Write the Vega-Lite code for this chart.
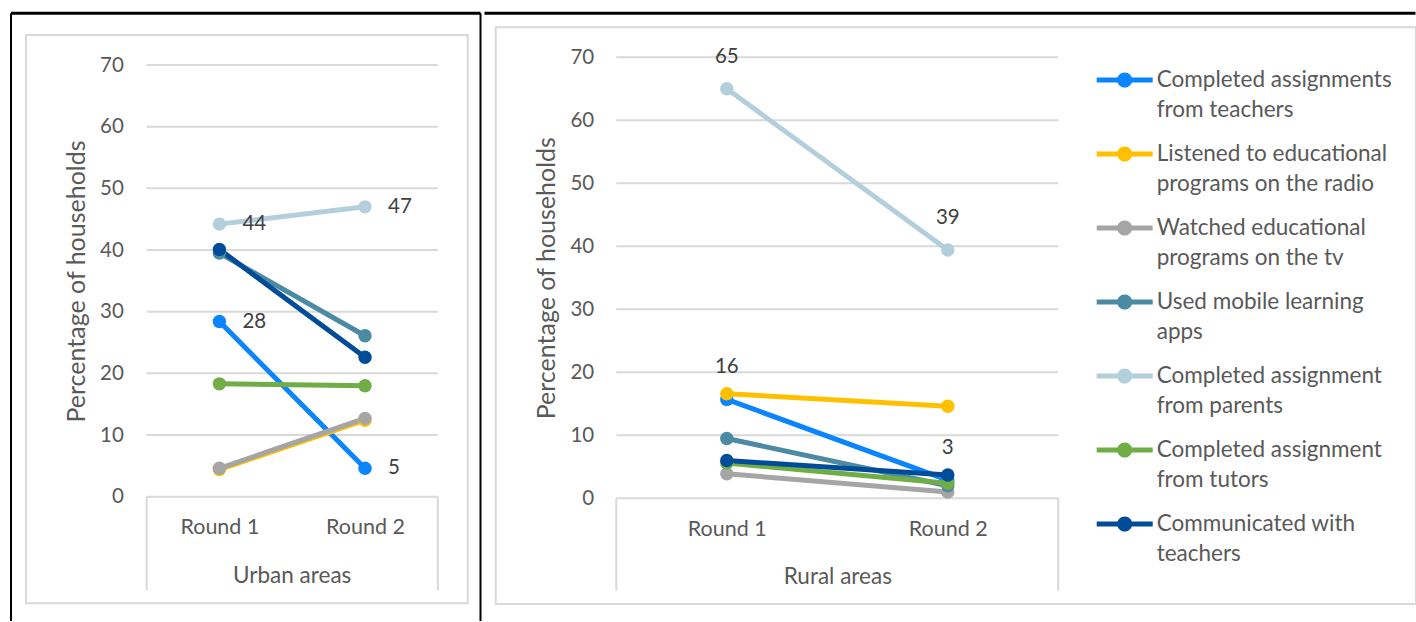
{
  "$schema": "https://vega.github.io/schema/vega-lite/v6.json",
  "usermeta": {"embedOptions": {"actions": false}},
  "padding": 0,
  "spacing": 0,
  "background": "white",
  "config": {
    "font": "Lato",
    "view": {"stroke": null},
    "concat": {"spacing": 0}
  },
  "data": {
    "values": [
      {"area": "Urban areas", "series": "Completed assignments from teachers", "round": 1, "value": 28.4},
      {"area": "Urban areas", "series": "Completed assignments from teachers", "round": 2, "value": 4.6},
      {"area": "Urban areas", "series": "Listened to educational programs on the radio", "round": 1, "value": 4.4},
      {"area": "Urban areas", "series": "Listened to educational programs on the radio", "round": 2, "value": 12.4},
      {"area": "Urban areas", "series": "Watched educational programs on the tv", "round": 1, "value": 4.6},
      {"area": "Urban areas", "series": "Watched educational programs on the tv", "round": 2, "value": 12.7},
      {"area": "Urban areas", "series": "Used mobile learning apps", "round": 1, "value": 39.5},
      {"area": "Urban areas", "series": "Used mobile learning apps", "round": 2, "value": 26.1},
      {"area": "Urban areas", "series": "Completed assignment from parents", "round": 1, "value": 44.2},
      {"area": "Urban areas", "series": "Completed assignment from parents", "round": 2, "value": 47.0},
      {"area": "Urban areas", "series": "Completed assignment from tutors", "round": 1, "value": 18.3},
      {"area": "Urban areas", "series": "Completed assignment from tutors", "round": 2, "value": 18.0},
      {"area": "Urban areas", "series": "Communicated with teachers", "round": 1, "value": 40.1},
      {"area": "Urban areas", "series": "Communicated with teachers", "round": 2, "value": 22.6},
      {"area": "Rural areas", "series": "Completed assignments from teachers", "round": 1, "value": 15.7},
      {"area": "Rural areas", "series": "Completed assignments from teachers", "round": 2, "value": 2.9},
      {"area": "Rural areas", "series": "Listened to educational programs on the radio", "round": 1, "value": 16.6},
      {"area": "Rural areas", "series": "Listened to educational programs on the radio", "round": 2, "value": 14.6},
      {"area": "Rural areas", "series": "Watched educational programs on the tv", "round": 1, "value": 3.9},
      {"area": "Rural areas", "series": "Watched educational programs on the tv", "round": 2, "value": 1.0},
      {"area": "Rural areas", "series": "Used mobile learning apps", "round": 1, "value": 9.5},
      {"area": "Rural areas", "series": "Used mobile learning apps", "round": 2, "value": 2.0},
      {"area": "Rural areas", "series": "Completed assignment from parents", "round": 1, "value": 65.0},
      {"area": "Rural areas", "series": "Completed assignment from parents", "round": 2, "value": 39.4},
      {"area": "Rural areas", "series": "Completed assignment from tutors", "round": 1, "value": 5.6},
      {"area": "Rural areas", "series": "Completed assignment from tutors", "round": 2, "value": 2.4},
      {"area": "Rural areas", "series": "Communicated with teachers", "round": 1, "value": 6.0},
      {"area": "Rural areas", "series": "Communicated with teachers", "round": 2, "value": 3.7}
    ]
  },
  "hconcat": [
    {
      "width": 482,
      "height": 622,
      "layer": [
        {
          "data": {"values": [{}]},
          "mark": {"type": "rect", "filled": false, "stroke": "#d9d9d9", "strokeWidth": 2},
          "encoding": {
            "x": {"datum": -0.3283, "type": "quantitative", "scale": {"domain": [-0.5069, 2.8036], "nice": false, "zero": false}},
            "x2": {"datum": 2.7054},
            "y": {"datum": 74.865, "type": "quantitative", "scale": {"domain": [-20.318, 80.54], "nice": false, "zero": false}},
            "y2": {"datum": -17.285}
          }
        },
        {
          "data": {"values": [{}]},
          "mark": {"type": "rule", "color": "#000000", "strokeWidth": 3},
          "encoding": {
            "x": {"datum": -0.4313, "type": "quantitative", "scale": {"domain": [-0.5069, 2.8036], "nice": false, "zero": false}},
            "x2": {"datum": 2.7933},
            "y": {"datum": 78.383, "type": "quantitative", "scale": {"domain": [-20.318, 80.54], "nice": false, "zero": false}}
          }
        },
        {
          "data": {"values": [{}]},
          "mark": {"type": "rule", "color": "#000000", "strokeWidth": 2},
          "encoding": {
            "x": {"datum": -0.4313, "type": "quantitative", "scale": {"domain": [-0.5069, 2.8036], "nice": false, "zero": false}},
            "y": {"datum": 78.383, "type": "quantitative", "scale": {"domain": [-20.318, 80.54], "nice": false, "zero": false}},
            "y2": {"datum": -20.156}
          }
        },
        {
          "data": {"values": [{}]},
          "mark": {"type": "rule", "color": "#000000", "strokeWidth": 2},
          "encoding": {
            "x": {"datum": 2.7933, "type": "quantitative", "scale": {"domain": [-0.5069, 2.8036], "nice": false, "zero": false}},
            "y": {"datum": 78.383, "type": "quantitative", "scale": {"domain": [-20.318, 80.54], "nice": false, "zero": false}},
            "y2": {"datum": -20.156}
          }
        },
        {
          "data": {"values": [{"tick": 0}, {"tick": 10}, {"tick": 20}, {"tick": 30}, {"tick": 40}, {"tick": 50}, {"tick": 60}, {"tick": 70}]},
          "mark": {"type": "rule", "color": "#d9d9d9", "strokeWidth": 2},
          "encoding": {
            "x": {"datum": 0.5, "type": "quantitative", "scale": {"domain": [-0.5069, 2.8036], "nice": false, "zero": false}},
            "x2": {"datum": 2.5},
            "y": {"field": "tick", "type": "quantitative", "scale": {"domain": [-20.318, 80.54], "nice": false, "zero": false}}
          }
        },
        {
          "data": {"values": [{}]},
          "mark": {"type": "rule", "color": "#d9d9d9", "strokeWidth": 2},
          "encoding": {
            "x": {"datum": 0.5, "type": "quantitative", "scale": {"domain": [-0.5069, 2.8036], "nice": false, "zero": false}},
            "y": {"datum": 0, "type": "quantitative", "scale": {"domain": [-20.318, 80.54], "nice": false, "zero": false}},
            "y2": {"datum": -15.18}
          }
        },
        {
          "data": {"values": [{}]},
          "mark": {"type": "rule", "color": "#d9d9d9", "strokeWidth": 2},
          "encoding": {
            "x": {"datum": 2.5, "type": "quantitative", "scale": {"domain": [-0.5069, 2.8036], "nice": false, "zero": false}},
            "y": {"datum": 0, "type": "quantitative", "scale": {"domain": [-20.318, 80.54], "nice": false, "zero": false}},
            "y2": {"datum": -15.18}
          }
        },
        {
          "transform": [{"filter": "datum.area == 'Urban areas'"}],
          "mark": {"type": "line", "strokeWidth": 5, "strokeCap": "round"},
          "encoding": {
            "x": {
              "field": "round", "type": "quantitative",
              "scale": {"domain": [-0.5069, 2.8036], "nice": false, "zero": false},
              "axis": {"values": [1, 2], "labelExpr": "'Round ' + datum.value", "grid": false, "domain": false, "ticks": false, "tickSize": 0, "offset": -125.3, "labelPadding": 31, "labelBaseline": "middle", "labelFlush": false, "labelOverlap": false, "labelFontSize": 21.5, "labelColor": "#595959", "title": "Urban areas", "titleX": 291.7, "titleY": 78.3, "titleBaseline": "middle", "titleAlign": "center", "titleFontSize": 22.5, "titleColor": "#595959", "titleFontWeight": "normal"}
            },
            "y": {
              "field": "value", "type": "quantitative",
              "scale": {"domain": [-20.318, 80.54], "nice": false, "zero": false},
              "axis": {"values": [0, 10, 20, 30, 40, 50, 60, 70], "format": "d", "grid": false, "domain": false, "ticks": false, "tickSize": 0, "offset": -146.7, "labelPadding": 23.4, "labelFlush": false, "labelOverlap": false, "labelFontSize": 20.5, "labelColor": "#595959", "title": "Percentage of households", "titleX": -70.7, "titleY": 281, "titleAngle": -90, "titleBaseline": "middle", "titleAlign": "center", "titleFontSize": 25, "titleColor": "#595959", "titleFontWeight": "normal"}
            },
            "color": {
              "field": "series", "type": "nominal",
              "scale": {
                "domain": ["Completed assignments from teachers", "Listened to educational programs on the radio", "Watched educational programs on the tv", "Used mobile learning apps", "Completed assignment from parents", "Completed assignment from tutors", "Communicated with teachers"],
                "range": ["#0a84ff", "#ffc000", "#a5a5a5", "#4a8aa3", "#b4cfdc", "#70ad47", "#004c99"]
              },
              "legend": {
                "orient": "none", "legendX": 1096.7, "legendY": 52, "direction": "vertical", "title": null,
                "symbolType": "M-1,-0.09L1,-0.09L1,0.09L-1,0.09Z M0.27,0A0.27,0.27,0,1,1,-0.27,0A0.27,0.27,0,1,1,0.27,0Z",
                "symbolSize": 3136, "symbolStrokeWidth": 0, "labelFontSize": 22.5, "labelColor": "#595959", "labelOffset": 4, "rowPadding": 4, "labelLimit": 400,
                "labelExpr": "datum.label == 'Completed assignments from teachers' ? ['Completed assignments', 'from teachers'] : datum.label == 'Listened to educational programs on the radio' ? ['Listened to educational', 'programs on the radio'] : datum.label == 'Watched educational programs on the tv' ? ['Watched educational', 'programs on the tv'] : datum.label == 'Used mobile learning apps' ? ['Used mobile learning', 'apps'] : datum.label == 'Completed assignment from parents' ? ['Completed assignment', 'from parents'] : datum.label == 'Completed assignment from tutors' ? ['Completed assignment', 'from tutors'] : ['Communicated with', 'teachers']",
                "encode": {
                  "symbols": {"update": {"fill": {"scale": "color", "field": "value"}, "stroke": {"value": "transparent"}, "opacity": {"value": 1}}},
                  "labels": {"update": {"lineHeight": {"value": 30}}}
                }
              }
            }
          }
        },
        {
          "transform": [{"filter": "datum.area == 'Urban areas'"}],
          "mark": {"type": "point", "filled": true, "size": 180, "opacity": 1, "strokeWidth": 0},
          "encoding": {
            "x": {"field": "round", "type": "quantitative", "scale": {"domain": [-0.5069, 2.8036], "nice": false, "zero": false}},
            "y": {"field": "value", "type": "quantitative", "scale": {"domain": [-20.318, 80.54], "nice": false, "zero": false}},
            "color": {"field": "series", "type": "nominal"}
          }
        },
        {
          "transform": [{"filter": "datum.area == 'Urban areas' && (datum.series == 'Completed assignments from teachers' || datum.series == 'Completed assignment from parents')"}],
          "mark": {"type": "text", "align": "left", "baseline": "middle", "dx": 23, "fontSize": 20.5, "color": "#404040"},
          "encoding": {
            "x": {"field": "round", "type": "quantitative", "scale": {"domain": [-0.5069, 2.8036], "nice": false, "zero": false}},
            "y": {"field": "value", "type": "quantitative", "scale": {"domain": [-20.318, 80.54], "nice": false, "zero": false}},
            "text": {"field": "value", "type": "quantitative", "format": ".0f"}
          }
        }
      ]
    },
    {
      "width": 934,
      "height": 622,
      "layer": [
        {
          "data": {"values": [{}]},
          "mark": {"type": "rect", "filled": false, "stroke": "#d9d9d9", "strokeWidth": 2},
          "encoding": {
            "x": {"datum": -0.0457, "type": "quantitative", "scale": {"domain": [-0.1032, 4.1231], "nice": false, "zero": false}},
            "x2": {"datum": 4.1186},
            "y": {"datum": 74.762, "type": "quantitative", "scale": {"domain": [-19.635, 79.095], "nice": false, "zero": false}},
            "y2": {"datum": -16.778}
          }
        },
        {
          "data": {"values": [{}]},
          "mark": {"type": "rule", "color": "#000000", "strokeWidth": 3},
          "encoding": {
            "x": {"datum": -0.0964, "type": "quantitative", "scale": {"domain": [-0.1032, 4.1231], "nice": false, "zero": false}},
            "x2": {"datum": 4.1163},
            "y": {"datum": 76.984, "type": "quantitative", "scale": {"domain": [-19.635, 79.095], "nice": false, "zero": false}}
          }
        },
        {
          "data": {"values": [{"tick": 0}, {"tick": 10}, {"tick": 20}, {"tick": 30}, {"tick": 40}, {"tick": 50}, {"tick": 60}, {"tick": 70}]},
          "mark": {"type": "rule", "color": "#d9d9d9", "strokeWidth": 2},
          "encoding": {
            "x": {"datum": 0.5, "type": "quantitative", "scale": {"domain": [-0.1032, 4.1231], "nice": false, "zero": false}},
            "x2": {"datum": 2.5},
            "y": {"field": "tick", "type": "quantitative", "scale": {"domain": [-19.635, 79.095], "nice": false, "zero": false}}
          }
        },
        {
          "data": {"values": [{}]},
          "mark": {"type": "rule", "color": "#d9d9d9", "strokeWidth": 2},
          "encoding": {
            "x": {"datum": 0.5, "type": "quantitative", "scale": {"domain": [-0.1032, 4.1231], "nice": false, "zero": false}},
            "y": {"datum": 0, "type": "quantitative", "scale": {"domain": [-19.635, 79.095], "nice": false, "zero": false}},
            "y2": {"datum": -14.67}
          }
        },
        {
          "data": {"values": [{}]},
          "mark": {"type": "rule", "color": "#d9d9d9", "strokeWidth": 2},
          "encoding": {
            "x": {"datum": 2.5, "type": "quantitative", "scale": {"domain": [-0.1032, 4.1231], "nice": false, "zero": false}},
            "y": {"datum": 0, "type": "quantitative", "scale": {"domain": [-19.635, 79.095], "nice": false, "zero": false}},
            "y2": {"datum": -14.67}
          }
        },
        {
          "transform": [{"filter": "datum.area == 'Rural areas'"}],
          "mark": {"type": "line", "strokeWidth": 5, "strokeCap": "round"},
          "encoding": {
            "x": {
              "field": "round", "type": "quantitative",
              "scale": {"domain": [-0.1032, 4.1231], "nice": false, "zero": false},
              "axis": {"values": [1, 2], "labelExpr": "'Round ' + datum.value", "grid": false, "domain": false, "ticks": false, "tickSize": 0, "offset": -123.7, "labelPadding": 30.7, "labelBaseline": "middle", "labelFlush": false, "labelOverlap": false, "labelFontSize": 21.5, "labelColor": "#595959", "title": "Rural areas", "titleX": 354.3, "titleY": 77.7, "titleBaseline": "middle", "titleAlign": "center", "titleFontSize": 22.5, "titleColor": "#595959", "titleFontWeight": "normal"}
            },
            "y": {
              "field": "value", "type": "quantitative",
              "scale": {"domain": [-19.635, 79.095], "nice": false, "zero": false},
              "axis": {"values": [0, 10, 20, 30, 40, 50, 60, 70], "format": "d", "grid": false, "domain": false, "ticks": false, "tickSize": 0, "offset": -133.3, "labelPadding": 22.6, "labelFlush": false, "labelOverlap": false, "labelFontSize": 20.5, "labelColor": "#595959", "title": "Percentage of households", "titleX": -70.3, "titleY": 277.7, "titleAngle": -90, "titleBaseline": "middle", "titleAlign": "center", "titleFontSize": 25, "titleColor": "#595959", "titleFontWeight": "normal"}
            },
            "color": {
              "field": "series", "type": "nominal",
              "scale": {
                "domain": ["Completed assignments from teachers", "Listened to educational programs on the radio", "Watched educational programs on the tv", "Used mobile learning apps", "Completed assignment from parents", "Completed assignment from tutors", "Communicated with teachers"],
                "range": ["#0a84ff", "#ffc000", "#a5a5a5", "#4a8aa3", "#b4cfdc", "#70ad47", "#004c99"]
              },
              "legend": {
                "orient": "none", "legendX": 1096.7, "legendY": 52, "direction": "vertical", "title": null,
                "symbolType": "M-1,-0.09L1,-0.09L1,0.09L-1,0.09Z M0.27,0A0.27,0.27,0,1,1,-0.27,0A0.27,0.27,0,1,1,0.27,0Z",
                "symbolSize": 3136, "symbolStrokeWidth": 0, "labelFontSize": 22.5, "labelColor": "#595959", "labelOffset": 4, "rowPadding": 4, "labelLimit": 400,
                "labelExpr": "datum.label == 'Completed assignments from teachers' ? ['Completed assignments', 'from teachers'] : datum.label == 'Listened to educational programs on the radio' ? ['Listened to educational', 'programs on the radio'] : datum.label == 'Watched educational programs on the tv' ? ['Watched educational', 'programs on the tv'] : datum.label == 'Used mobile learning apps' ? ['Used mobile learning', 'apps'] : datum.label == 'Completed assignment from parents' ? ['Completed assignment', 'from parents'] : datum.label == 'Completed assignment from tutors' ? ['Completed assignment', 'from tutors'] : ['Communicated with', 'teachers']",
                "encode": {
                  "symbols": {"update": {"fill": {"scale": "color", "field": "value"}, "stroke": {"value": "transparent"}, "opacity": {"value": 1}}},
                  "labels": {"update": {"lineHeight": {"value": 30}}}
                }
              }
            }
          }
        },
        {
          "transform": [{"filter": "datum.area == 'Rural areas'"}],
          "mark": {"type": "point", "filled": true, "size": 180, "opacity": 1, "strokeWidth": 0},
          "encoding": {
            "x": {"field": "round", "type": "quantitative", "scale": {"domain": [-0.1032, 4.1231], "nice": false, "zero": false}},
            "y": {"field": "value", "type": "quantitative", "scale": {"domain": [-19.635, 79.095], "nice": false, "zero": false}},
            "color": {"field": "series", "type": "nominal"}
          }
        },
        {
          "transform": [{"filter": "datum.area == 'Rural areas' && (datum.series == 'Completed assignments from teachers' || datum.series == 'Completed assignment from parents')"}],
          "mark": {"type": "text", "align": "center", "baseline": "middle", "dy": -32, "fontSize": 20.5, "color": "#404040"},
          "encoding": {
            "x": {"field": "round", "type": "quantitative", "scale": {"domain": [-0.1032, 4.1231], "nice": false, "zero": false}},
            "y": {"field": "value", "type": "quantitative", "scale": {"domain": [-19.635, 79.095], "nice": false, "zero": false}},
            "text": {"field": "value", "type": "quantitative", "format": ".0f"}
          }
        }
      ]
    }
  ]
}
